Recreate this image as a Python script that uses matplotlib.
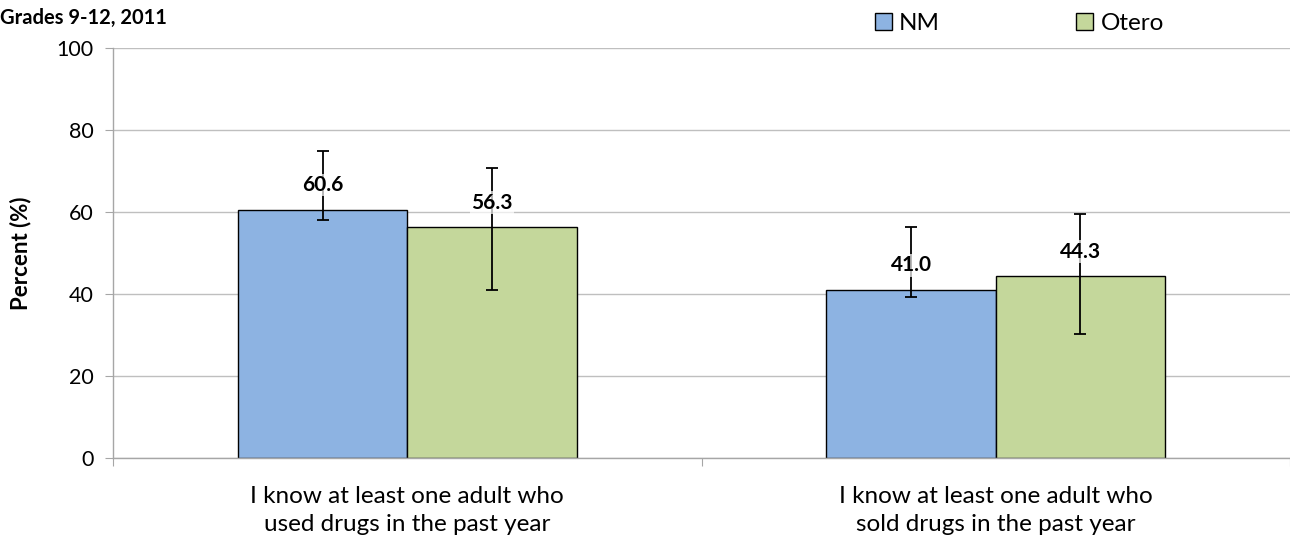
import numpy as np
import matplotlib
matplotlib.use("Agg")
import matplotlib.pyplot as plt

plt.rcParams['font.family'] = ['Lato', 'DejaVu Sans']

# data
categories = ["I know at least one adult who\nused drugs in the past year",
              "I know at least one adult who\nsold drugs in the past year"]
series = ["NM", "Otero"]
nm_vals = [60.6, 41.0]
otero_vals = [56.3, 44.3]
nm_low = [58.0, 39.2]
nm_high = [75.0, 56.3]
otero_low = [41.0, 30.2]
otero_high = [70.8, 59.4]

colors = ["#8DB3E2", "#C4D79B"]

fig = plt.figure(figsize=(12.9, 5.46), dpi=100)
ax = fig.add_axes([0.0876, 0.1612, 0.9124, 0.7508])

x = np.arange(len(categories)) + 0.5
w = 0.288

for i, (vals, lo, hi) in enumerate([(nm_vals, nm_low, nm_high),
                                     (otero_vals, otero_low, otero_high)]):
    pos = x - w / 2 if i == 0 else x + w / 2
    vals = np.array(vals)
    yerr = [vals - np.array(lo), np.array(hi) - vals]
    ax.bar(pos, vals, w, color=colors[i], edgecolor="black", linewidth=1.0,
           label=series[i], zorder=2)
    ax.errorbar(pos, vals, yerr=yerr, fmt="none", ecolor="black",
                elinewidth=1.3, capsize=4, capthick=1.3, zorder=3)
    for px, v in zip(pos, vals):
        ax.text(px, v + 6, f"{v:.1f}", ha="center", va="center",
                fontsize=15, fontweight="bold", zorder=4,
                bbox=dict(facecolor="white", edgecolor="none", alpha=0.7, pad=1))

ax.set_xlim(0, 2)
ax.set_ylim(0, 100)
ax.set_yticks(range(0, 101, 20))
ax.yaxis.grid(True, color="#BFBFBF", linewidth=1.0, zorder=0)
ax.set_axisbelow(True)

ax.set_xticks([0, 1, 2])
ax.set_xticklabels([])
ax.set_xticks(x, minor=True)
ax.set_xticklabels(categories, minor=True, fontsize=17.5, linespacing=1.45)
ax.tick_params(axis="x", which="minor", length=0, pad=20)
ax.tick_params(axis="x", which="major", length=6, color="#A6A6A6")
ax.tick_params(axis="y", length=6, color="#A6A6A6", labelsize=15.5, pad=8)

for s in ["top", "right"]:
    ax.spines[s].set_visible(False)
for s in ["left", "bottom"]:
    ax.spines[s].set_color("#A6A6A6")
    ax.spines[s].set_linewidth(1.0)

ax.set_ylabel("Percent (%)", fontsize=16, fontweight="bold", labelpad=18)

fig.text(0.0, 0.968, "Grades 9-12, 2011", fontsize=14.5, fontweight="bold",
         ha="left", va="center")

ax.legend(loc="center", bbox_to_anchor=(0.77, 1.06), ncol=2, frameon=False,
          fontsize=17.5, handlelength=0.7, handleheight=0.7, handletextpad=0.3,
          columnspacing=5.6, borderaxespad=0)

fig.savefig("out.png", dpi=100)
